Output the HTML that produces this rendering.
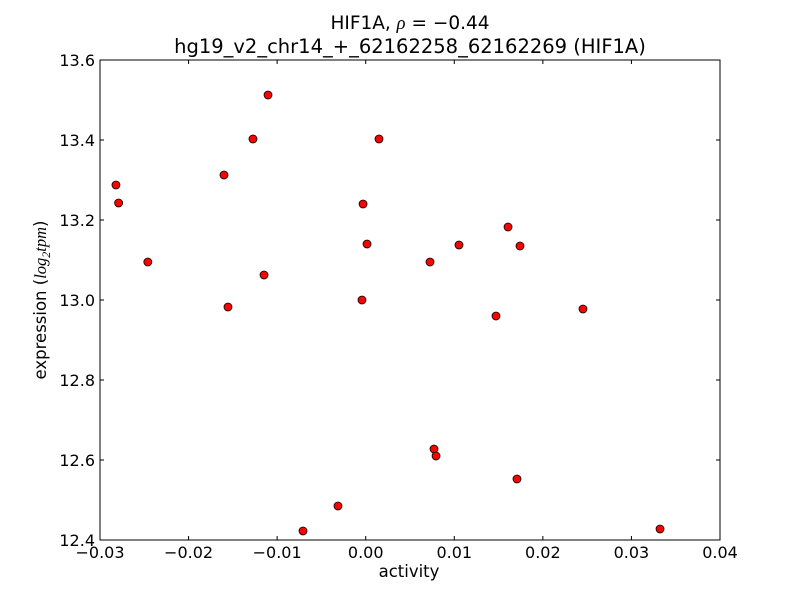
<!DOCTYPE html>
<html><head><meta charset="utf-8"><style>
body{margin:0;background:#fff;}
svg text{font-family:"DejaVu Sans","Liberation Sans",sans-serif;}
</style></head><body>
<svg id="chart" width="800" height="600">
<rect width="800" height="600" fill="#fff"/>
<text x="410" y="29" text-anchor="middle" font-size="18.5">HIF1A, <tspan font-style="italic" font-family="Liberation Serif,serif">ρ</tspan> = −0.44</text>
<text x="410" y="53" text-anchor="middle" font-size="19.5">hg19_v2_chr14_+_62162258_62162269 (HIF1A)</text>
<g id="ticks"></g>
<g id="points"></g>
<rect x="100" y="60" width="620" height="480" fill="none" stroke="#000" stroke-width="1"/>
<text x="409" y="577" text-anchor="middle" font-size="16.5">activity</text>
<text transform="translate(46,300) rotate(-90)" text-anchor="middle" font-size="16.5">expression (<tspan font-style="italic" font-family="Liberation Serif,serif">log</tspan><tspan font-style="italic" font-size="12" dy="4" font-family="Liberation Serif,serif">2</tspan><tspan dy="-4" font-style="italic" font-family="Liberation Serif,serif">tpm</tspan>)</text>
<g id="x"></g>
</svg>
<script>
const xValues=[-0.0282,-0.0279,-0.0246,-0.016,-0.01555,-0.01273,-0.01148,-0.01103,-0.00708,-0.00313,-0.00042,-0.0003,0.00015,0.0015,0.00726,0.00771,0.00794,0.01053,0.01471,0.01607,0.01708,0.01742,0.02453,0.03323];
const yValues=[13.2875,13.2425,13.095,13.3125,12.9825,13.4025,13.0625,13.5125,12.4225,12.485,13.0,13.24,13.14,13.4025,13.095,12.6275,12.61,13.1375,12.96,13.1825,12.5525,13.135,12.9775,12.4275];
const xTicks=[-0.03,-0.02,-0.01,0,0.01,0.02,0.03,0.04];
const xTickLabels=["−0.03","−0.02","−0.01","0.00","0.01","0.02","0.03","0.04"];
const yTicks=[12.4,12.6,12.8,13.0,13.2,13.4,13.6];
const yTickLabels=["12.4","12.6","12.8","13.0","13.2","13.4","13.6"];
const NS="http://www.w3.org/2000/svg";
const X=v=>100+(v+0.03)/0.07*620;
const Y=v=>540-(v-12.4)/1.2*480;
const tg=document.getElementById('ticks');
function mk(tag,attrs,parent){const e=document.createElementNS(NS,tag);for(const k in attrs)e.setAttribute(k,attrs[k]);parent.appendChild(e);return e;}
xTicks.forEach((t,i)=>{const x=X(t);
 const a=mk('line',{x1:x,x2:x,y1:540,y2:536,stroke:'#000'},tg);
 
 
 const b=mk('line',{x1:x,x2:x,y1:60,y2:64,stroke:'#000'},tg);
 
 
 const l=mk('text',{x:x,y:558,'text-anchor':'middle','font-size':16},tg);l.textContent=xTickLabels[i];
 
 
});
yTicks.forEach((t,i)=>{const y=Y(t);
 const a=mk('line',{x1:100,x2:104,y1:y,y2:y,stroke:'#000'},tg);
 
 
 const b=mk('line',{x1:716,x2:720,y1:y,y2:y,stroke:'#000'},tg);
 
 
 const l=mk('text',{x:95,y:y+6,'text-anchor':'end','font-size':16},tg);l.textContent=yTickLabels[i];
 
 
});
const pg=document.getElementById('points');
xValues.forEach((v,i)=>{
 const c=mk('circle',{cx:X(v),cy:Y(yValues[i]),r:4,fill:'#ff0000',stroke:'#000','stroke-width':0.8},pg);
 
 
});
</script>
</body></html>
